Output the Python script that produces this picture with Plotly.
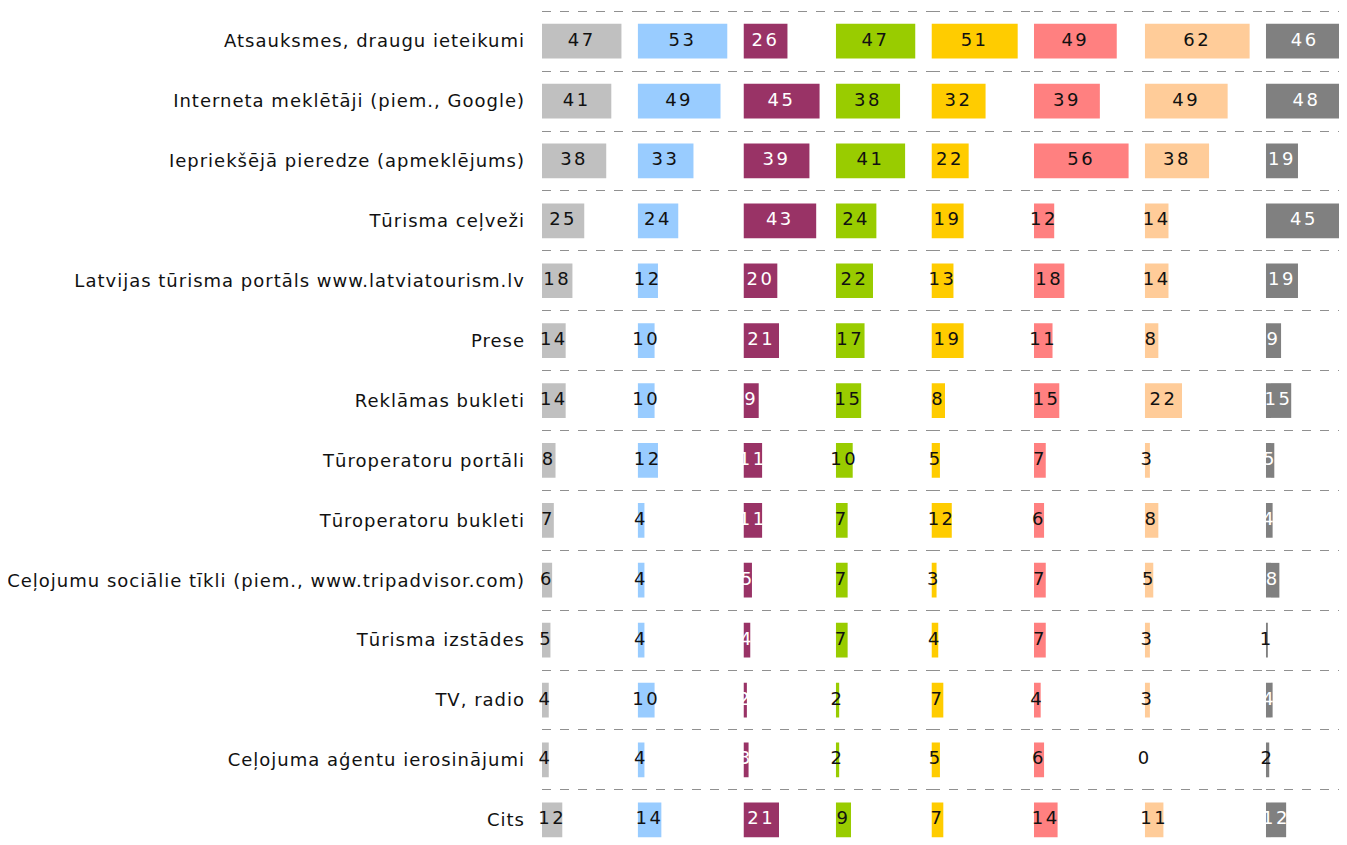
import plotly.graph_objects as go
from plotly.subplots import make_subplots

categories = [
    "Atsauksmes, draugu ieteikumi",
    "Interneta meklētāji (piem., Google)",
    "Iepriekšējā pieredze (apmeklējums)",
    "Tūrisma ceļveži",
    "Latvijas tūrisma portāls www.latviatourism.lv",
    "Prese",
    "Reklāmas bukleti",
    "Tūroperatoru portāli",
    "Tūroperatoru bukleti",
    "Ceļojumu sociālie tīkli (piem., www.tripadvisor.com)",
    "Tūrisma izstādes",
    "TV, radio",
    "Ceļojuma aģentu ierosinājumi",
    "Cits",
]

group1 = [47, 41, 38, 25, 18, 14, 14, 8, 7, 6, 5, 4, 4, 12]
group2 = [53, 49, 33, 24, 12, 10, 10, 12, 4, 4, 4, 10, 4, 14]
group3 = [26, 45, 39, 43, 20, 21, 9, 11, 11, 5, 4, 2, 3, 21]
group4 = [47, 38, 41, 24, 22, 17, 15, 10, 7, 7, 7, 2, 2, 9]
group5 = [51, 32, 22, 19, 13, 19, 8, 5, 12, 3, 4, 7, 5, 7]
group6 = [49, 39, 56, 12, 18, 11, 15, 7, 6, 7, 7, 4, 6, 14]
group7 = [62, 49, 38, 14, 14, 8, 22, 3, 8, 5, 3, 3, 0, 11]
group8 = [46, 48, 19, 45, 19, 9, 15, 5, 4, 8, 1, 4, 2, 12]

groups = [group1, group2, group3, group4, group5, group6, group7, group8]
colors = ["#C0C0C0", "#99CCFF", "#993366", "#99CC00",
          "#FFCC00", "#FF8080", "#FFCC99", "#808080"]
dark_bars = {2, 7}  # purple and dark grey get white numbers


def spaced(s, px):
    # the original rendering has loose letter spacing
    return f'<span style="letter-spacing:{px}px">{s}</span>'


# each panel gets a bit of empty room after its longest bar
gap = 9.6
ranges = [max(g) + gap for g in groups[:-1]] + [max(groups[-1])]

fig = make_subplots(rows=1, cols=len(groups), shared_yaxes=True,
                    horizontal_spacing=0, column_widths=ranges)

for i, vals in enumerate(groups):
    fig.add_trace(go.Bar(
        x=vals,
        y=categories,
        orientation='h',
        marker=dict(color=colors[i], line=dict(width=0)),
        width=0.58,
        hoverinfo='x+y',
        showlegend=False,
    ), row=1, col=i + 1)

    # value labels centred on the bars (and allowed to spill over)
    if i in dark_bars:
        tcol = ['#111111' if (i == 7 and v <= 2) else '#ffffff' for v in vals]
    else:
        tcol = '#111111'
    fig.add_trace(go.Scatter(
        x=[v / 2 for v in vals],
        y=categories,
        mode='text',
        text=[spaced(v, 2.5) for v in vals],
        textposition='middle center',
        textfont=dict(color=tcol, size=18, family="DejaVu Sans"),
        cliponaxis=False,
        hoverinfo='skip',
        showlegend=False,
    ), row=1, col=i + 1)

    fig.update_xaxes(range=[0, ranges[i]], visible=False, row=1, col=i + 1)

fig.update_yaxes(
    categoryorder='array',
    categoryarray=categories,
    tickvals=categories,
    ticktext=[spaced(c, 1) for c in categories],
    range=[13.42, -0.52],
    tickson='boundaries',
    showgrid=True,
    gridcolor='#909090',
    griddash='dash',
    gridwidth=1,
    zeroline=False,
    showline=False,
    ticks='',
    ticklabelstandoff=16,
)

# page body has an 8px margin, so the figure is shifted to compensate
fig.update_layout(
    width=1339,
    height=837,
    plot_bgcolor='white',
    paper_bgcolor='white',
    font=dict(family="DejaVu Sans", size=18, color="#111111"),
    margin=dict(l=534, r=0, t=2, b=0),
)

fig.write_html("out.html")
